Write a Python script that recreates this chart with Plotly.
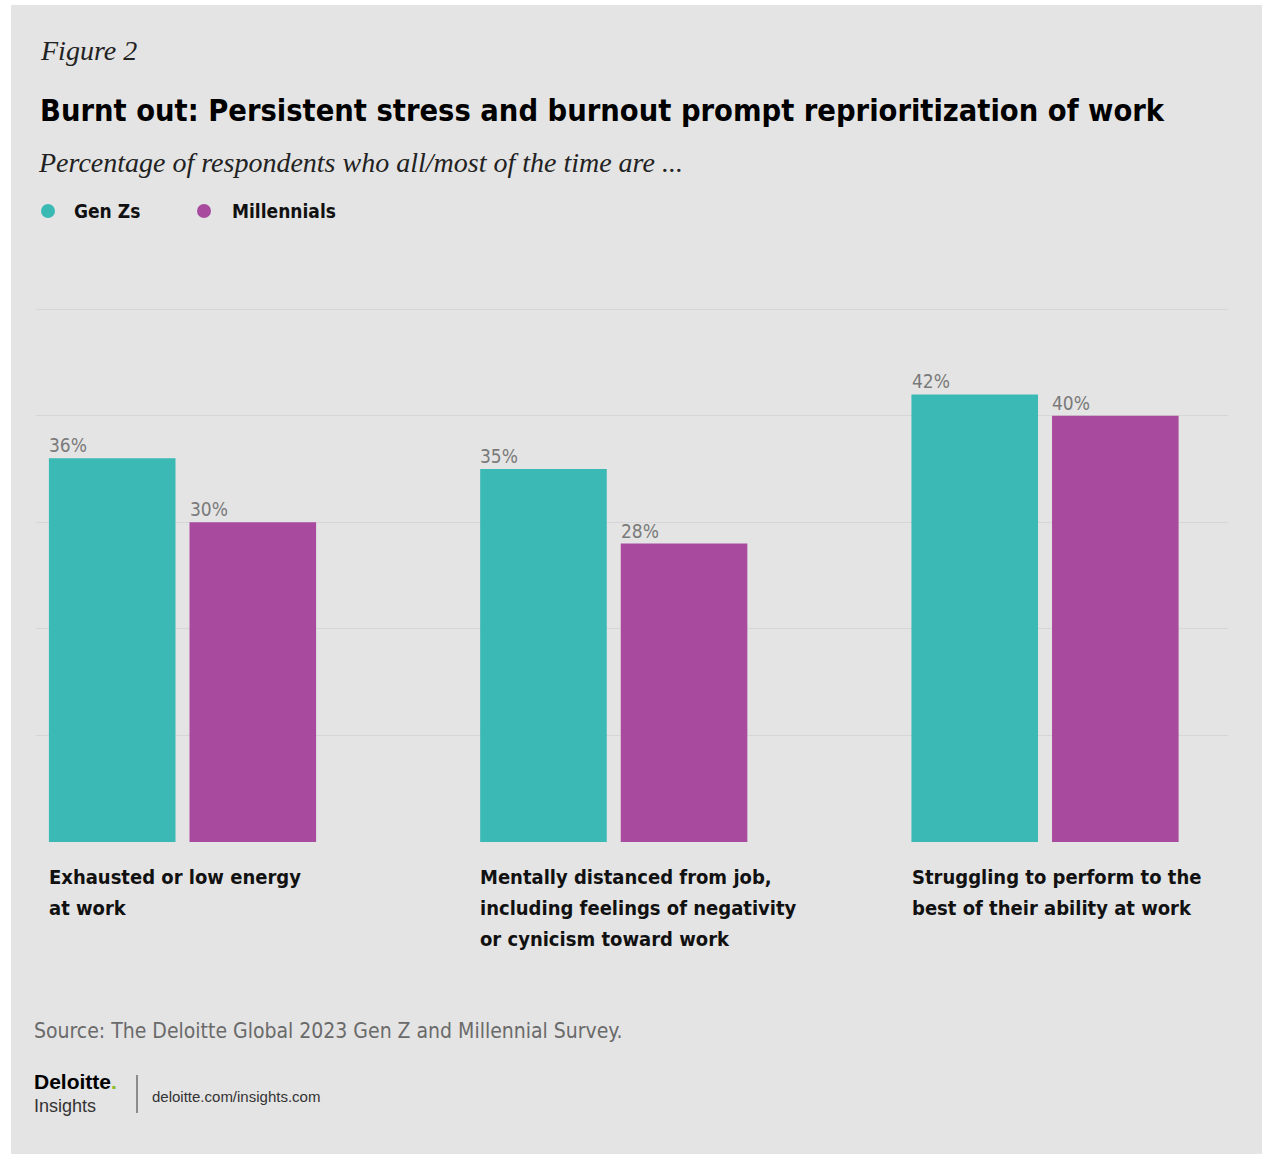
import plotly.graph_objects as go

# ---------------- data ----------------
categories = ["Exhausted", "Mentally distanced", "Struggling"]
category_labels = [
    "Exhausted or low energy<br>at work",
    "Mentally distanced from job,<br>including feelings of negativity<br>or cynicism toward work",
    "Struggling to perform to the<br>best of their ability at work",
]
series_names = ["Gen Zs", "Millennials"]
genz = [36, 35, 42]
millennials = [30, 28, 40]

# ---------------- styles ----------------
W, H = 1262, 1154
L, R, T, B = 36, 1228, 307, 842  # plot area pixels
YMAX = 50.2
TEAL = "#3ab9b5"
MAGENTA = "#a84b9f"
BG = "#e4e4e4"
GRID = "#d6d6d6"
SERIF = "Liberation Serif, DejaVu Serif, serif"
COND = "DejaVu Sans Condensed, DejaVu Sans, sans-serif"
SANS = "Liberation Sans, Arial, sans-serif"


def px(x):
    return (x - L) / (R - L)


def py(y):
    return (B - y) / (B - T)


fig = go.Figure()
fig.add_trace(go.Bar(x=categories, y=genz, name=series_names[0],
                     marker=dict(color=TEAL, line=dict(width=0)),
                     showlegend=False, hoverinfo="skip"))
fig.add_trace(go.Bar(x=categories, y=millennials, name=series_names[1],
                     marker=dict(color=MAGENTA, line=dict(width=0)),
                     showlegend=False, hoverinfo="skip"))

ann = []
for i, c in enumerate(categories):
    ann.append(dict(x=c, y=genz[i], xref="x", yref="y", text=f"{genz[i]}%",
                    showarrow=False, xanchor="left", yanchor="bottom",
                    xshift=-135.5, yshift=0,
                    font=dict(family=COND, size=19, color="#7a7a7a")))
    ann.append(dict(x=c, y=millennials[i], xref="x", yref="y", text=f"{millennials[i]}%",
                    showarrow=False, xanchor="left", yanchor="bottom",
                    xshift=5, yshift=0,
                    font=dict(family=COND, size=19, color="#7a7a7a")))
    for j, line in enumerate(category_labels[i].split("<br>")):
        ann.append(dict(x=c, y=0, xref="x", yref="y", text="<b>" + line + "</b>",
                        showarrow=False, xanchor="left", yanchor="middle", align="left",
                        xshift=-135.5, yshift=-35 - 31 * j,
                        font=dict(family=COND, size=20, color="#111111")))

ann.append(dict(x=px(38), y=py(50), xref="paper", yref="paper", text="<i>Figure 2</i>",
                showarrow=False, xanchor="left", yanchor="middle",
                font=dict(family=SERIF, size=28, color="#222222")))
ann.append(dict(x=px(38), y=py(110), xref="paper", yref="paper",
                text="<b>Burnt out: Persistent stress and burnout prompt reprioritization of work</b>",
                showarrow=False, xanchor="left", yanchor="middle",
                font=dict(family=COND, size=30.5, color="#000000")))
ann.append(dict(x=px(36), y=py(162), xref="paper", yref="paper",
                text="<i>Percentage of respondents who all/most of the time are ...</i>",
                showarrow=False, xanchor="left", yanchor="middle",
                font=dict(family=SERIF, size=28, color="#222222")))
ann.append(dict(x=px(72), y=py(211), xref="paper", yref="paper", text="<b>" + series_names[0] + "</b>",
                showarrow=False, xanchor="left", yanchor="middle",
                font=dict(family=COND, size=19, color="#111111")))
ann.append(dict(x=px(230), y=py(211), xref="paper", yref="paper", text="<b>" + series_names[1] + "</b>",
                showarrow=False, xanchor="left", yanchor="middle",
                font=dict(family=COND, size=19, color="#111111")))
ann.append(dict(x=px(32), y=py(1031), xref="paper", yref="paper",
                text="Source: The Deloitte Global 2023 Gen Z and Millennial Survey.",
                showarrow=False, xanchor="left", yanchor="middle",
                font=dict(family=COND, size=21, color="#6a6a6a")))
ann.append(dict(x=px(32), y=py(1093), xref="paper", yref="paper",
                text="<b style='font-size:21px;color:#000000'>Deloitte</b>"
                     "<b style='font-size:21px;color:#86bc25'>.</b><br>Insights",
                showarrow=False, xanchor="left", yanchor="middle", align="left",
                font=dict(family=SANS, size=18, color="#333333")))
ann.append(dict(x=px(150), y=py(1096), xref="paper", yref="paper", text="deloitte.com/insights.com",
                showarrow=False, xanchor="left", yanchor="middle",
                font=dict(family=SANS, size=15, color="#333333")))

shapes = [
    dict(type="rect", xref="paper", yref="paper", x0=px(0), x1=px(11), y0=py(H), y1=py(0),
         fillcolor="white", line=dict(width=0), layer="below"),
    dict(type="rect", xref="paper", yref="paper", x0=px(0), x1=px(W), y0=py(5), y1=py(0),
         fillcolor="white", line=dict(width=0), layer="below"),
    dict(type="circle", xref="paper", yref="paper", x0=px(41), x1=px(55), y0=py(218), y1=py(204),
         fillcolor=TEAL, line=dict(width=0)),
    dict(type="circle", xref="paper", yref="paper", x0=px(197), x1=px(211), y0=py(218), y1=py(204),
         fillcolor=MAGENTA, line=dict(width=0)),
    dict(type="line", xref="paper", yref="paper", x0=px(137), x1=px(137), y0=py(1113), y1=py(1075),
         line=dict(color="#333333", width=1)),
]

fig.update_layout(
    width=W, height=H,
    margin=dict(l=L, r=W - R, t=T, b=H - B, pad=0),
    paper_bgcolor=BG, plot_bgcolor=BG,
    barmode="group", bargap=0.348, bargroupgap=0.0996,
    showlegend=False,
    xaxis=dict(type="category", range=[-0.3397, 2.4243], showticklabels=False,
               showgrid=False, zeroline=False, showline=False, ticks="", fixedrange=True),
    yaxis=dict(range=[0, YMAX], dtick=10, showticklabels=False, showgrid=True,
               gridcolor=GRID, gridwidth=1, zeroline=False, showline=False, ticks="",
               fixedrange=True),
    annotations=ann,
    shapes=shapes,
)

fig.write_html("out.html")
